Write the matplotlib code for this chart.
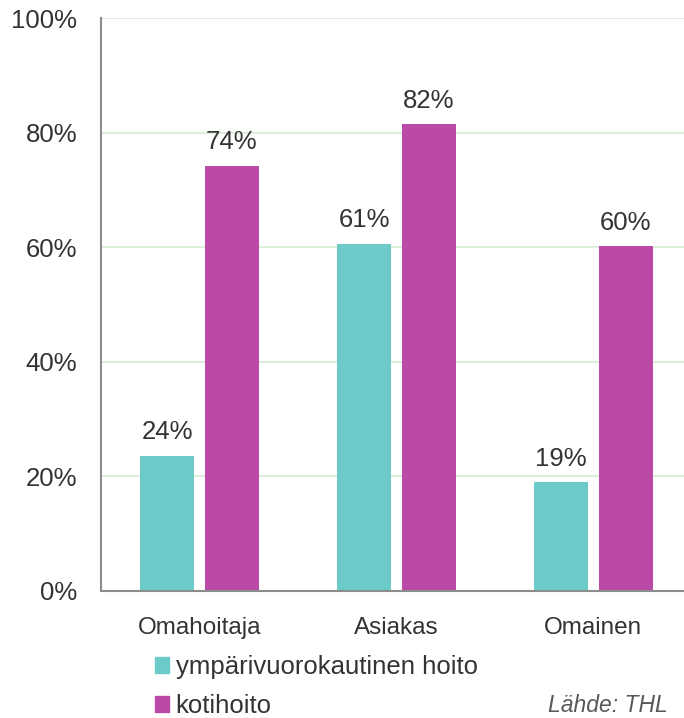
import matplotlib
matplotlib.use("Agg")
import matplotlib.pyplot as plt
import numpy as np
from matplotlib.patches import Patch

plt.rcParams['font.family'] = ['Liberation Sans', 'DejaVu Sans']

categories = ["Omahoitaja", "Asiakas", "Omainen"]
series_names = ["ympärivuorokautinen hoito", "kotihoito"]
ymp_values = [23.6, 60.6, 19.0]
koti_values = [74.2, 81.5, 60.2]
ymp_labels = ["24%", "61%", "19%"]
koti_labels = ["74%", "82%", "60%"]
yticks = [0, 20, 40, 60, 80, 100]
ytick_labels = ["0%", "20%", "40%", "60%", "80%", "100%"]

teal = "#6CCAC8"
magenta = "#BB4AA6"
txt = "#333333"

fig = plt.figure(figsize=(6.84, 7.18), dpi=100)
ax = fig.add_axes([101/684, 1-591/718, (684-101)/684, (591-18)/718])

x = np.arange(len(categories))
w = 0.274
off = 0.164
ax.bar(x - off, ymp_values, w, color=teal, zorder=2)
ax.bar(x + off, koti_values, w, color=magenta, zorder=2)

for xi, v, l in zip(x, ymp_values, ymp_labels):
    ax.text(xi - off, v + 2.0, l, ha='center', va='bottom', fontsize=18.5, color=txt)
for xi, v, l in zip(x, koti_values, koti_labels):
    ax.text(xi + off, v + 2.0, l, ha='center', va='bottom', fontsize=18.5, color=txt)

ax.set_xlim(-0.5, 2.46)
ax.set_ylim(0, 100)
ax.set_yticks(yticks)
ax.set_yticklabels(ytick_labels, fontsize=18.5, color=txt)
ax.set_xticks(x)
ax.set_xticklabels(categories, fontsize=17.5, color=txt)
ax.tick_params(axis='both', length=0)
ax.tick_params(axis='y', pad=17)
ax.tick_params(axis='x', pad=19)
ax.grid(axis='y', color='#d6ebd3', linewidth=1.2, zorder=0)
for s in ['top', 'right']:
    ax.spines[s].set_visible(False)
for s in ['left', 'bottom']:
    ax.spines[s].set_color('#8c8c8c')
    ax.spines[s].set_linewidth(1.5)

handles = [Patch(color=teal), Patch(color=magenta)]
fig.legend(handles, series_names, loc='upper left', bbox_to_anchor=(155/684, 1-655/718),
           frameon=False, fontsize=18.5, handlelength=0.55, handleheight=0.55,
           handletextpad=0.25, labelspacing=0.58, borderaxespad=0, borderpad=0,
           labelcolor=txt)

fig.text(668/684, 1-705/718, "Lähde: THL", ha='right', va='center', fontsize=16.5,
         style='italic', color='#595959')

fig.savefig("out.png", dpi=100)
